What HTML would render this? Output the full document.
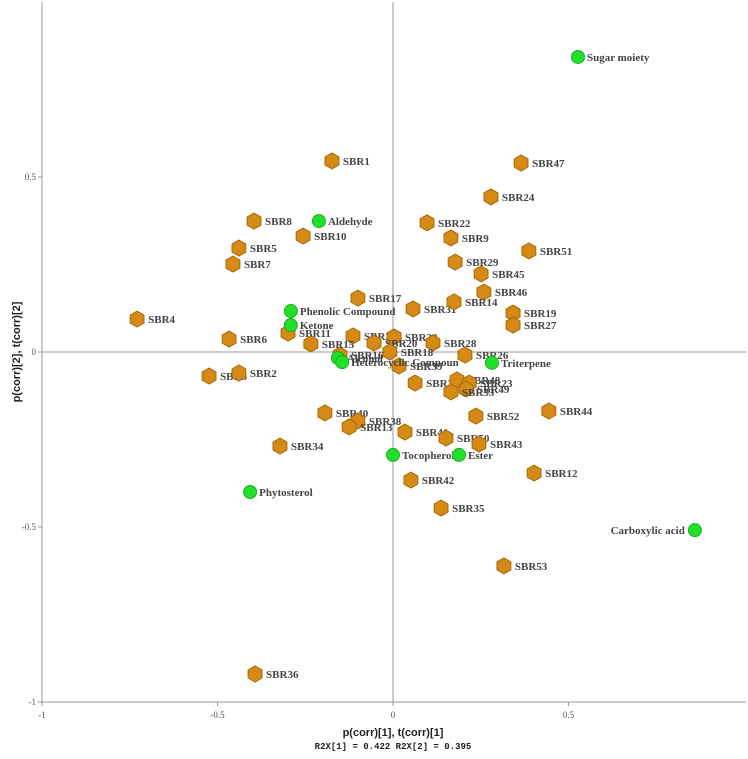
<!DOCTYPE html>
<html><head><meta charset="utf-8"><style>
body{margin:0;background:#fff;}
svg text{font-family:"Liberation Serif",serif;}
</style></head><body>
<svg id="chart" width="748" height="754" xmlns="http://www.w3.org/2000/svg"></svg>
<script>
const greenNames=["Sugar moiety","Aldehyde","Phenolic Compound","Ketone","Alcohol","Heterocyclic Compoun","Triterpene","Tocopherol","Ester","Phytosterol","Carboxylic acid"];
const greenX=[0.527,-0.211,-0.291,-0.291,-0.157,-0.145,0.282,0,0.188,-0.407,0.86];
const greenY=[0.843,0.374,0.117,0.077,-0.017,-0.029,-0.031,-0.294,-0.294,-0.4,-0.509];
const sbrNames=["SBR1","SBR47","SBR24","SBR8","SBR10","SBR22","SBR9","SBR51","SBR29","SBR45","SBR5","SBR7","SBR46","SBR17","SBR31","SBR14","SBR19","SBR27","SBR4","SBR6","SBR11","SBR21","SBR32","SBR20","SBR15","SBR28","SBR18","SBR16","SBR26","SBR39","SBR3","SBR2","SBR30","SBR48","SBR23","SBR49","SBR33","SBR52","SBR44","SBR40","SBR38","SBR13","SBR41","SBR50","SBR43","SBR34","SBR42","SBR12","SBR35","SBR53","SBR36"];
const sbrX=[-0.174,0.365,0.279,-0.396,-0.256,0.097,0.165,0.387,0.177,0.251,-0.439,-0.456,0.259,-0.100,0.057,0.174,0.342,0.342,-0.729,-0.467,-0.299,-0.114,0.003,-0.054,-0.234,0.114,-0.009,-0.151,0.205,0.017,-0.524,-0.439,0.063,0.182,0.217,0.208,0.165,0.236,0.444,-0.194,-0.100,-0.125,0.034,0.151,0.245,-0.322,0.051,0.402,0.137,0.316,-0.393];
const sbrY=[0.546,0.540,0.443,0.374,0.331,0.369,0.326,0.289,0.257,0.223,0.297,0.251,0.171,0.154,0.123,0.143,0.111,0.077,0.094,0.037,0.054,0.046,0.043,0.026,0.023,0.026,0,-0.009,-0.009,-0.040,-0.069,-0.060,-0.089,-0.080,-0.089,-0.106,-0.114,-0.183,-0.169,-0.174,-0.197,-0.214,-0.229,-0.246,-0.263,-0.269,-0.366,-0.346,-0.446,-0.611,-0.920];
const xTicks=[-1,-0.5,0,0.5];
const yTicks=[0.5,0,-0.5,-1];
const NS="http://www.w3.org/2000/svg";
const svg=document.getElementById('chart');
function sx(v){return 393+v*351;}
function sy(v){return 352-v*350;}
function mk(tag,attrs,parent){const e=document.createElementNS(NS,tag);for(const k in attrs)e.setAttribute(k,attrs[k]);(parent||svg).appendChild(e);return e;}
// axes
let a=mk('line',{x1:sx(-1),y1:sy(-1),x2:746,y2:sy(-1),stroke:'#999','stroke-width':1});


a=mk('line',{x1:sx(-1),y1:sy(-1),x2:sx(-1),y2:2,stroke:'#999','stroke-width':1});


a=mk('line',{x1:sx(-1),y1:sy(0),x2:746,y2:sy(0),stroke:'#999','stroke-width':1});


a=mk('line',{x1:sx(0),y1:sy(-1),x2:sx(0),y2:2,stroke:'#999','stroke-width':1});


xTicks.forEach(t=>{
  mk('line',{x1:sx(t),y1:sy(-1),x2:sx(t),y2:sy(-1)+4,stroke:'#999'});
  const tx=mk('text',{x:sx(t),y:sy(-1)+16,'font-size':9,fill:'#555','text-anchor':'middle'});
  tx.textContent=t;
  
  
});
yTicks.forEach(t=>{
  mk('line',{x1:sx(-1)-4,y1:sy(t),x2:sx(-1),y2:sy(t),stroke:'#999'});
  const tx=mk('text',{x:sx(-1)-6,y:sy(t)+3,'font-size':9,fill:'#555','text-anchor':'end'});
  tx.textContent=t;
  
  
});
let t=mk('text',{x:393,y:736,'font-size':11,'font-weight':'bold','text-anchor':'middle',fill:'#222',style:'font-family:"Liberation Sans",sans-serif'});
t.textContent='p(corr)[1], t(corr)[1]';


t=mk('text',{x:393,y:749,'font-size':9,'font-weight':'bold','text-anchor':'middle',fill:'#222',style:'font-family:"Liberation Mono",monospace'});
t.textContent='R2X[1] = 0.422 R2X[2] = 0.395';


t=mk('text',{x:0,y:0,'font-size':11,'font-weight':'bold','text-anchor':'middle',fill:'#222',transform:'translate(20,352) rotate(-90)',style:'font-family:"Liberation Sans",sans-serif'});
t.textContent='p(corr)[2], t(corr)[2]';


function hex(cx,cy,r){let p=[];for(let i=0;i<6;i++){const ang=Math.PI/3*i+Math.PI/6;p.push((cx+r*Math.cos(ang)).toFixed(1)+','+(cy+r*Math.sin(ang)).toFixed(1));}return p.join(' ');}
sbrNames.forEach((n,i)=>{
  const g=mk('g',{});
  
  
  mk('polygon',{points:hex(sx(sbrX[i]),sy(sbrY[i]),8),fill:'#d48a14',stroke:'#a86808','stroke-width':1},g);
  const l=mk('text',{x:sx(sbrX[i])+11,y:sy(sbrY[i])+4,'font-size':11,'font-weight':'bold',fill:'#444'},g);
  l.textContent=n;
});
greenNames.forEach((n,i)=>{
  const g=mk('g',{});
  
  
  mk('circle',{cx:sx(greenX[i]),cy:sy(greenY[i]),r:6.5,fill:'#22e02a',stroke:'#18b020','stroke-width':1},g);
  const right=n==='Carboxylic acid';
  const l=mk('text',{x:right?sx(greenX[i])-10:sx(greenX[i])+9,y:sy(greenY[i])+4,'font-size':11,'font-weight':'bold',fill:'#444','text-anchor':right?'end':'start'},g);
  l.textContent=n;
});
</script>
</body></html>
